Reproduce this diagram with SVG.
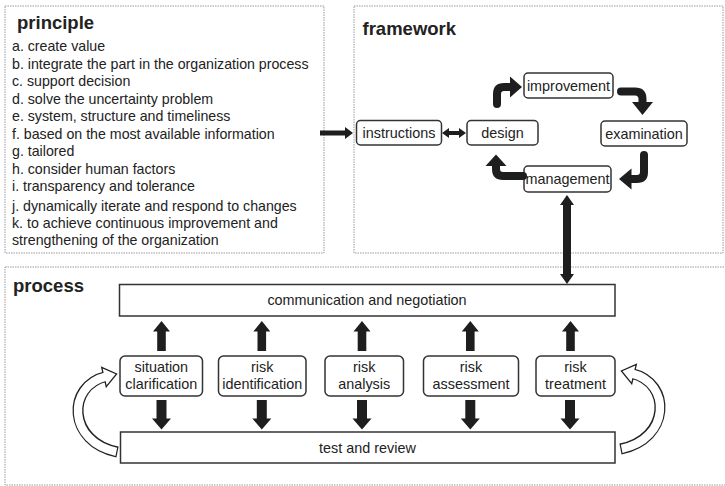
<svg xmlns="http://www.w3.org/2000/svg" xmlns:xlink="http://www.w3.org/1999/xlink" width="725" height="486" viewBox="0 0 725 486">
<style>
text{font-family:"Liberation Sans",Arial,sans-serif;fill:#222;}
.title{font-size:18.5px;font-weight:bold;}
.item{font-size:14.2px;}
.lbl{font-size:14.4px;text-anchor:middle;}
.panel{fill:#fff;stroke:#9a9a9a;stroke-width:1;stroke-dasharray:1.5 1;}
.node{fill:#fff;stroke:#333;stroke-width:1.5;}
.bar{fill:#fff;stroke:#333;stroke-width:1.5;}
.solid{fill:#1e1e1e;}
.elbow{fill:none;stroke:#1e1e1e;stroke-width:8;stroke-linecap:round;stroke-linejoin:round;}
</style>
<defs>
<polygon id="upArrow" class="solid" points="0,0 8.5,10.5 4.3,10.5 4.3,30 -4.3,30 -4.3,10.5 -8.5,10.5"/>
<polygon id="downArrow" class="solid" points="-5,0 5,0 5,18.5 9.5,18.5 0,29.5 -9.5,18.5 -5,18.5"/>
<g id="curvedArrow">
<path d="M 117.5 452 C 68 442, 66 386, 106 376.5" fill="none" stroke="#222" stroke-width="11"/>
<polygon points="106.3,386.7 116.6,374 101.7,367.3" fill="#fff" stroke="#222" stroke-width="1.3" stroke-linejoin="miter"/>
<path d="M 116.3 451.8 C 68 442, 66 386, 106.5 376.4" fill="none" stroke="#fff" stroke-width="8.4"/>
</g>
</defs>

<g id="panels">
<rect id="principle-panel" class="panel" x="5" y="6" width="319" height="247"/>
<rect id="framework-panel" class="panel" x="354" y="6" width="369" height="247"/>
<rect id="process-panel" class="panel" x="5" y="267" width="725" height="218"/>
</g>

<g id="principle">
<text class="title" x="17" y="29">principle</text>
<text class="item" x="12" y="51">a. create value</text>
<text class="item" x="12" y="68.5">b. integrate the part in the organization process</text>
<text class="item" x="12" y="86">c. support decision</text>
<text class="item" x="12" y="103.5">d. solve the uncertainty problem</text>
<text class="item" x="12" y="121">e. system, structure and timeliness</text>
<text class="item" x="12" y="138.5">f. based on the most available information</text>
<text class="item" x="12" y="156">g. tailored</text>
<text class="item" x="12" y="173.5">h. consider human factors</text>
<text class="item" x="12" y="191">i. transparency and tolerance</text>
<text class="item" x="12" y="211">j. dynamically iterate and respond to changes</text>
<text class="item" x="12" y="228">k. to achieve continuous improvement and</text>
<text class="item" x="12" y="245">strengthening of the organization</text>
</g>

<text class="title" x="362.5" y="35">framework</text>
<text class="title" x="13" y="292">process</text>

<g id="instructions"><rect class="node" x="356.5" y="120.5" width="85" height="24.5" rx="4"/><text class="lbl" x="399" y="138">instructions</text></g>
<g id="design"><rect class="node" x="467" y="120.5" width="71" height="24.5" rx="4"/><text class="lbl" x="502.5" y="138">design</text></g>
<g id="improvement"><rect class="node" x="524" y="73" width="89" height="25" rx="4"/><text class="lbl" x="568.5" y="90.5">improvement</text></g>
<g id="examination"><rect class="node" x="601" y="121" width="86" height="25" rx="4"/><text class="lbl" x="644" y="138.5">examination</text></g>
<g id="management"><rect class="node" x="524" y="166" width="87" height="26" rx="4"/><text class="lbl" x="567.5" y="184">management</text></g>

<g id="communication"><rect class="bar" x="119.5" y="284.5" width="495.5" height="31.5"/><text class="lbl" x="367" y="305">communication and negotiation</text></g>
<g id="test-review"><rect class="bar" x="120.5" y="432" width="494.5" height="31"/><text class="lbl" x="367.5" y="452.5">test and review</text></g>

<g id="situation-clarification"><rect class="node" x="120" y="356" width="82.5" height="40" rx="5"/><text class="lbl" x="161.3" y="372">situation</text><text class="lbl" x="161.3" y="389">clarification</text></g>
<g id="risk-identification"><rect class="node" x="218.5" y="356" width="87.5" height="40" rx="5"/><text class="lbl" x="262.2" y="372">risk</text><text class="lbl" x="262.2" y="389">identification</text></g>
<g id="risk-analysis"><rect class="node" x="325" y="356" width="78.5" height="40" rx="5"/><text class="lbl" x="364.2" y="372">risk</text><text class="lbl" x="364.2" y="389">analysis</text></g>
<g id="risk-assessment"><rect class="node" x="423.5" y="356" width="95" height="40" rx="5"/><text class="lbl" x="471" y="372">risk</text><text class="lbl" x="471" y="389">assessment</text></g>
<g id="risk-treatment"><rect class="node" x="536" y="356" width="79" height="40" rx="5"/><text class="lbl" x="575.5" y="372">risk</text><text class="lbl" x="575.5" y="389">treatment</text></g>

<g id="connectors">
<polygon class="solid" points="320,130.5 345,130.5 345,127 353,133 345,139 345,135.5 320,135.5"/>
<polygon class="solid" points="442,133 449,128 449,131 459,131 459,128 466,133 459,138 459,135 449,135 449,138"/>
<path class="elbow" d="M 497 104 L 497 94 Q 497 87 504 87 L 511 87"/>
<polygon class="solid" points="510,76.5 522,87 510,97.5"/>
<path class="elbow" d="M 621 91.5 L 635 91.5 Q 642.5 91.5 642.5 99 L 642.5 103"/>
<polygon class="solid" points="632,102 642.5,115 653,102"/>
<path class="elbow" d="M 644 155 L 644 172 Q 644 179 637 179 L 631 179"/>
<polygon class="solid" points="631.5,168.5 619,179 631.5,189.5"/>
<path class="elbow" d="M 523 176 L 503 176 Q 496 176 496 169 L 496 165"/>
<polygon class="solid" points="485.5,166 496,154.5 506.5,166"/>
<polygon class="solid" points="567,195 574,205 571,205 571,274 574,274 567,284 560,274 563,274 563,205 560,205"/>
<use xlink:href="#upArrow" x="161.5" y="321"/>
<use xlink:href="#upArrow" x="261.8" y="321"/>
<use xlink:href="#upArrow" x="362" y="321"/>
<use xlink:href="#upArrow" x="470.3" y="321"/>
<use xlink:href="#upArrow" x="570.5" y="321"/>
<use xlink:href="#downArrow" x="161.5" y="400"/>
<use xlink:href="#downArrow" x="261.8" y="400"/>
<use xlink:href="#downArrow" x="362" y="400"/>
<use xlink:href="#downArrow" x="470.3" y="400"/>
<use xlink:href="#downArrow" x="570" y="400"/>
<use xlink:href="#curvedArrow"/>
<use xlink:href="#curvedArrow" transform="translate(738,-3) scale(-1,1)"/>
</g>
</svg>
